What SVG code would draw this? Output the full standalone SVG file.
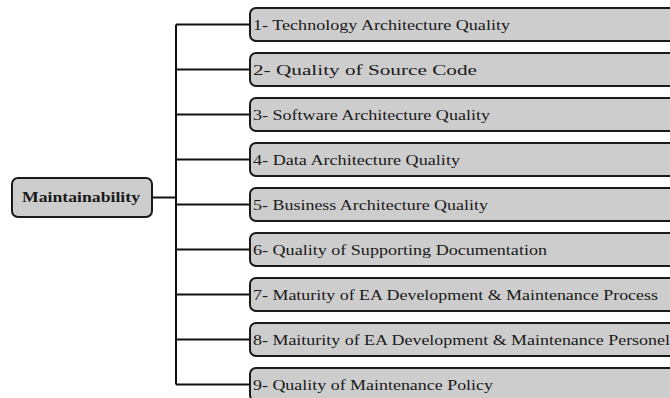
<svg xmlns="http://www.w3.org/2000/svg" width="670" height="398" viewBox="0 0 670 398">
<style>
.box{fill:#cdcdcd;stroke:#1a1a1a;stroke-width:2}
.t{font-family:"Liberation Serif","Times New Roman",serif;font-size:15px;fill:#1a1a1a}
.tb{font-family:"Liberation Serif","Times New Roman",serif;font-size:15px;font-weight:bold;fill:#1a1a1a}
.c{fill:none;stroke:#111;stroke-width:2}
</style>
<rect width="670" height="398" fill="#fff"/>
<g id="connectors">
<path class="c" d="M152,197.5 H176 M176,24.5 V384.5 M176,24.5 H250 M176,69.5 H250 M176,114.5 H250 M176,159.5 H250 M176,204.5 H250 M176,249.5 H250 M176,294.5 H250 M176,339.5 H250 M176,384.5 H250"/>
</g>
<g id="root"><rect class="box" x="12" y="178" width="140" height="39" rx="6"/><text class="tb" x="22" y="202" textLength="118" lengthAdjust="spacingAndGlyphs">Maintainability</text></g>
<g id="n1"><rect class="box" x="250" y="8" width="440" height="33" rx="6"/><text class="t" x="253" y="29.5" textLength="257" lengthAdjust="spacingAndGlyphs">1- Technology Architecture Quality</text></g>
<g id="n2"><rect class="box" x="250" y="53" width="440" height="33" rx="6"/><text class="t" x="253" y="74.5" textLength="224" lengthAdjust="spacingAndGlyphs">2- Quality of Source Code</text></g>
<g id="n3"><rect class="box" x="250" y="98" width="440" height="33" rx="6"/><text class="t" x="253" y="119.5" textLength="237" lengthAdjust="spacingAndGlyphs">3- Software Architecture Quality</text></g>
<g id="n4"><rect class="box" x="250" y="143" width="440" height="33" rx="6"/><text class="t" x="253" y="164.5" textLength="207" lengthAdjust="spacingAndGlyphs">4- Data Architecture Quality</text></g>
<g id="n5"><rect class="box" x="250" y="188" width="440" height="33" rx="6"/><text class="t" x="253" y="209.5" textLength="235" lengthAdjust="spacingAndGlyphs">5- Business Architecture Quality</text></g>
<g id="n6"><rect class="box" x="250" y="233" width="440" height="33" rx="6"/><text class="t" x="253" y="254.5" textLength="294" lengthAdjust="spacingAndGlyphs">6- Quality of Supporting Documentation</text></g>
<g id="n7"><rect class="box" x="250" y="278" width="440" height="33" rx="6"/><text class="t" x="253" y="299.5" textLength="405" lengthAdjust="spacingAndGlyphs">7- Maturity of EA Development &amp; Maintenance Process</text></g>
<g id="n8"><rect class="box" x="250" y="323" width="440" height="33" rx="6"/><text class="t" x="253" y="344.5" textLength="417" lengthAdjust="spacingAndGlyphs">8- Maiturity of EA Development &amp; Maintenance Personel</text></g>
<g id="n9"><rect class="box" x="250" y="368" width="440" height="33" rx="6"/><text class="t" x="253" y="389.5" textLength="240" lengthAdjust="spacingAndGlyphs">9- Quality of Maintenance Policy</text></g>
</svg>
